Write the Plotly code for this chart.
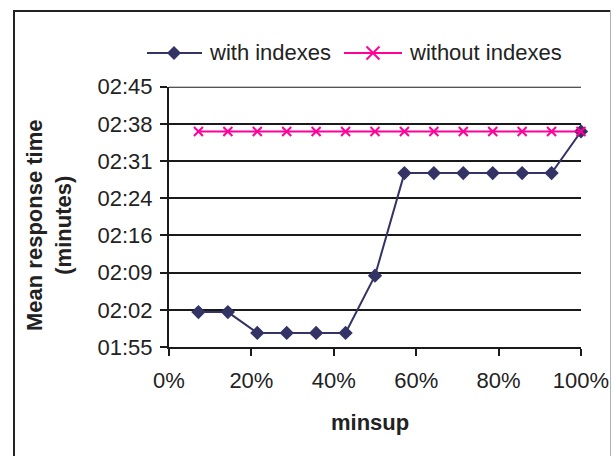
import plotly.graph_objects as go

# ---- data ----
minsup = [1/14, 2/14, 3/14, 4/14, 5/14, 6/14, 7/14, 8/14, 9/14, 10/14, 11/14, 12/14, 13/14, 14/14]
with_indexes_sec = [121.7, 121.7, 117.7, 117.7, 117.7, 117.7, 128.7,
                    148.4, 148.4, 148.4, 148.4, 148.4, 148.4, 156.4]
without_indexes_sec = [156.4] * 14

y_tick_vals = [115 + k * 50 / 7 for k in range(8)]
y_tick_text = ["01:55", "02:02", "02:09", "02:16", "02:24", "02:31", "02:38", "02:45"]
x_tick_vals = [0, 0.2, 0.4, 0.6, 0.8, 1.0]
x_tick_text = ["0%", "20%", "40%", "60%", "80%", "100%"]
series_names = ["with indexes", "without indexes"]

NAVY = "#333366"
PINK = "#ff0099"
DARK = "#1a1a1a"
FONT = "Liberation Sans, Arial, sans-serif"
W, H = 613, 456


def px(x):
    return x / W


def py(y):
    return 1 - y / H


fig = go.Figure()
fig.add_trace(go.Scatter(
    x=minsup, y=with_indexes_sec, mode="lines+markers", name=series_names[0],
    line=dict(color=NAVY, width=2),
    marker=dict(symbol="diamond", size=11, color=NAVY),
    cliponaxis=False,
))
fig.add_trace(go.Scatter(
    x=minsup, y=without_indexes_sec, mode="lines+markers", name=series_names[1],
    line=dict(color=PINK, width=2),
    marker=dict(symbol="x-thin", size=9, color=PINK, line=dict(color=PINK, width=2)),
    cliponaxis=False,
))

# ---- custom legend (layout shapes + text) ----
LEG_Y = 53
shapes = []
annotations = []
# entry 1: line + diamond
shapes.append(dict(type="line", xref="paper", yref="paper", x0=px(147), x1=px(202),
                   y0=py(LEG_Y), y1=py(LEG_Y), line=dict(color=NAVY, width=2)))
cx, r = 174, 7
shapes.append(dict(type="path", xref="paper", yref="paper",
                   path=f"M {px(cx - r)} {py(LEG_Y)} L {px(cx)} {py(LEG_Y - r)} "
                        f"L {px(cx + r)} {py(LEG_Y)} L {px(cx)} {py(LEG_Y + r)} Z",
                   fillcolor=NAVY, line=dict(color=NAVY, width=0)))
annotations.append(dict(text=series_names[0], xref="paper", yref="paper", x=px(207), y=py(LEG_Y),
                        xanchor="left", yanchor="middle", showarrow=False, font=dict(size=22)))
# entry 2: line + x
shapes.append(dict(type="line", xref="paper", yref="paper", x0=px(344), x1=px(402),
                   y0=py(LEG_Y), y1=py(LEG_Y), line=dict(color=PINK, width=2)))
cx, r = 373, 6.5
shapes.append(dict(type="line", xref="paper", yref="paper", x0=px(cx - r), x1=px(cx + r),
                   y0=py(LEG_Y - r), y1=py(LEG_Y + r), line=dict(color=PINK, width=2)))
shapes.append(dict(type="line", xref="paper", yref="paper", x0=px(cx - r), x1=px(cx + r),
                   y0=py(LEG_Y + r), y1=py(LEG_Y - r), line=dict(color=PINK, width=2)))
annotations.append(dict(text=series_names[1], xref="paper", yref="paper", x=px(407), y=py(LEG_Y),
                        xanchor="left", yanchor="middle", showarrow=False, font=dict(size=22)))

# ---- chart border ----
shapes.append(dict(type="line", xref="paper", yref="paper", x0=px(14), x1=px(14),
                   y0=py(10), y1=py(470), line=dict(color="#222222", width=2)))
shapes.append(dict(type="line", xref="paper", yref="paper", x0=px(13), x1=px(610),
                   y0=py(11), y1=py(11), line=dict(color="#222222", width=2)))
shapes.append(dict(type="line", xref="paper", yref="paper", x0=px(610.5), x1=px(610.5),
                   y0=py(10), y1=py(470), line=dict(color="#b0b0b0", width=1)))
# top gridline at the range edge
shapes.append(dict(type="line", xref="x", yref="y", x0=0, x1=1, y0=165, y1=165,
                   line=dict(color=DARK, width=2), layer="below"))

# ---- axis titles ----
annotations.append(dict(text="<b>minsup</b>", xref="paper", yref="paper", x=px(370), y=py(422),
                        xanchor="center", yanchor="middle", showarrow=False, font=dict(size=22)))
annotations.append(dict(text="<b>Mean response time<br>(minutes)</b>", xref="paper", yref="paper",
                        x=px(49), y=py(225), xanchor="center", yanchor="middle", textangle=-90,
                        showarrow=False, font=dict(size=22)))

fig.update_layout(
    width=W, height=H,
    margin=dict(l=0, r=0, t=0, b=0, autoexpand=False),
    paper_bgcolor="white", plot_bgcolor="white",
    font=dict(family=FONT, size=22, color="#222222"),
    showlegend=False,
    xaxis=dict(domain=[px(169), px(581)], range=[0, 1], tickvals=x_tick_vals, ticktext=x_tick_text,
               showgrid=False, zeroline=False, showline=True, linecolor=DARK, linewidth=2,
               ticks="outside", ticklen=7, tickwidth=2, tickcolor=DARK,
               ticklabelstandoff=6),
    yaxis=dict(domain=[py(347), py(86.7)], range=[115, 165], tickvals=y_tick_vals, ticktext=y_tick_text,
               showgrid=True, gridcolor=DARK, gridwidth=2, zeroline=False,
               showline=True, linecolor=DARK, linewidth=2,
               ticks="outside", ticklen=7, tickwidth=2, tickcolor=DARK,
               ticklabelstandoff=3),
    shapes=shapes,
    annotations=annotations,
)

fig.write_html("out.html")
